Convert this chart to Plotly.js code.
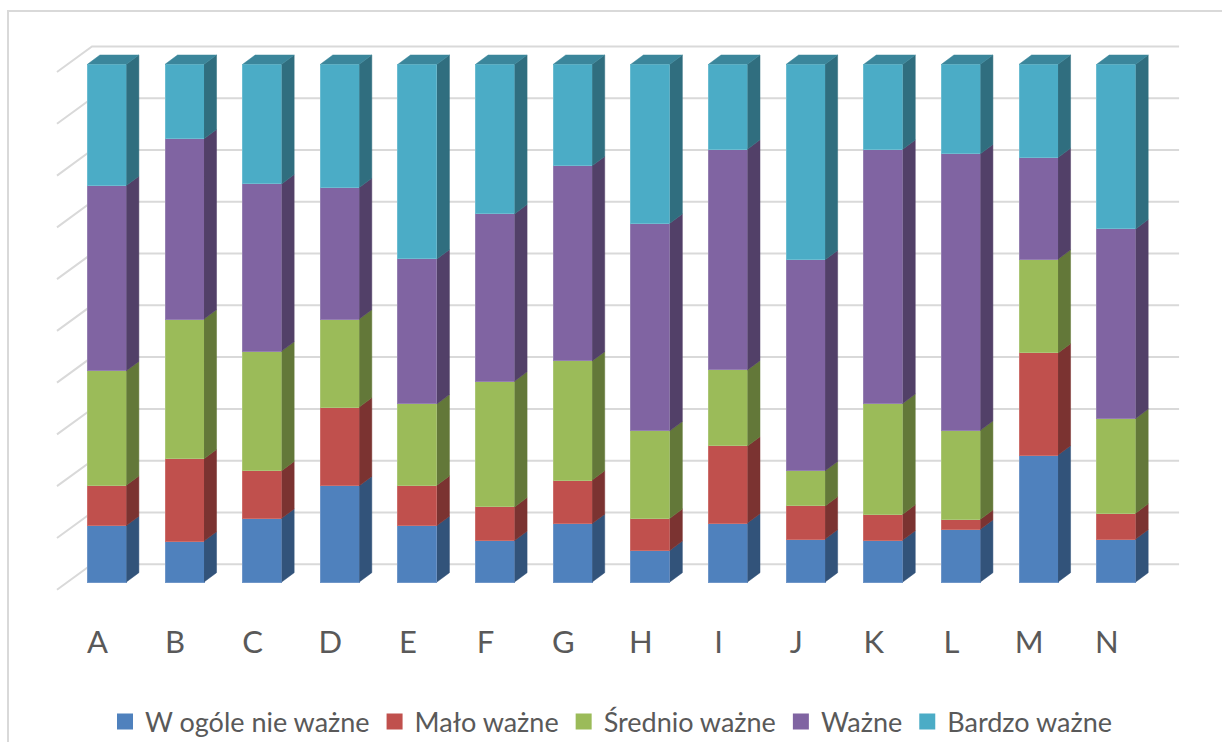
<!DOCTYPE html>
<html><head><meta charset="utf-8">
<script src="https://cdn.plot.ly/plotly-3.0.1.min.js"></script>
<style>
html,body{margin:0;padding:0;overflow:hidden;background:#fff;width:1222px;height:742px;}
#frame{position:absolute;left:7px;top:10px;width:1400px;height:900px;border-left:2px solid #d9d9d9;border-top:2px solid #d9d9d9;}
#chart{position:absolute;left:0;top:0;width:1222px;height:800px;}
</style></head><body><div id="frame"></div><div id="chart"></div>
<script>
// ---- data ----
const categories = ['A','B','C','D','E','F','G','H','I','J','K','L','M','N'];
const seriesNames = ['W ogóle nie ważne','Mało ważne','Średnio ważne','Ważne','Bardzo ważne'];
const wOgoleNieWazne = [10.9, 7.9, 12.3, 18.6, 10.9, 8.0, 11.3, 6.1, 11.4, 8.3, 8.1, 10.2, 24.5, 8.3];
const maloWazne      = [ 7.8,15.9,  9.2, 15.2,  7.8, 6.5,  8.4, 6.2, 14.9, 6.4, 5.0,  1.9, 19.7, 5.0];
const srednioWazne   = [22.1,27.0, 23.1, 17.0, 15.7,24.3, 23.0,16.9, 14.7, 6.8,21.4, 17.2, 18.1,18.3];
const wazne          = [35.8,34.8, 32.3, 25.4, 28.0,32.3, 37.7,40.1, 42.7,40.8,49.1, 53.4, 19.6,36.6];
const bardzoWazne    = [23.4,14.4, 23.1, 23.8, 37.6,28.9, 19.6,30.7, 16.4,37.8,16.4, 17.3, 18.0,31.8];
const gridTicks = [0,10,20,30,40,50,60,70,80,90,100];

// ---- style ----
const frontColors = ['#4F81BD','#C0504D','#9BBB59','#8064A2','#4BACC6'];
const edgeColors  = ['#6f96c8','#cc6e6b','#abc676','#9580b1','#6cbcd1'];
const sideColors  = ['#32537A','#7B3331','#637839','#524068','#306E7F'];
const topColor = '#3B869B';
const FONT = 'Lato, "Open Sans", sans-serif';
const TXT = '#595959';
const barW = 0.502;
const depthX = 0.161, depthY = 1.80;          // bar depth in axis units
const floorFrontX = -0.643, backLeftX = -0.192, backRightX = 13.81;
const floorFrontDY = -1.49, backDY = 3.44;     // gridline offsets in axis units
const labelShift = 0.122;                      // labels sit on the floor's front edge
const xRange = [-1.1193, 14.105];

const series = [wOgoleNieWazne, maloWazne, srednioWazne, wazne, bardzoWazne];
const xs = categories.map((c,i)=>i);
const totals = xs.map(i => series.reduce((s,arr)=>s+arr[i],0));
const pct = series.map(arr => arr.map((v,i)=> v/totals[i]*100));

const traces = [];
// front faces
pct.forEach((vals,s)=>{
  traces.push({type:'bar', x:xs, y:vals, width:barW, name:seriesNames[s], showlegend:false,
    marker:{color:frontColors[s], line:{color:edgeColors[s], width:1}}, hoverinfo:'skip'});
});
// side faces
const cum = xs.map(()=>0);
pct.forEach((vals,s)=>{
  const px=[], py=[];
  xs.forEach(i=>{
    const b = cum[i], t = cum[i]+vals[i];
    const xr = i + barW/2;
    px.push(xr, xr+depthX, xr+depthX, xr, null);
    py.push(b, b+depthY, t+depthY, t, null);
    cum[i] = t;
  });
  traces.push({type:'scatter', mode:'lines', x:px, y:py, fill:'toself', fillcolor:sideColors[s],
    line:{color:sideColors[s], width:0.5}, showlegend:false, hoverinfo:'skip'});
});
// top faces
{
  const px=[], py=[];
  xs.forEach(i=>{
    const t = cum[i];
    px.push(i-barW/2, i-barW/2+depthX, i+barW/2+depthX, i+barW/2, null);
    py.push(t, t+depthY, t+depthY, t, null);
  });
  traces.push({type:'scatter', mode:'lines', x:px, y:py, fill:'toself', fillcolor:topColor,
    line:{color:topColor, width:0.5}, showlegend:false, hoverinfo:'skip'});
}
// legend entries (on the label axis)
seriesNames.forEach((n,s)=>{
  traces.push({type:'scatter', mode:'markers', x:[null], y:[null], xaxis:'x2', name:n,
    marker:{symbol:'square', size:17, color:frontColors[s]}, hoverinfo:'skip'});
});

// gridlines (back wall + left floor edge)
const shapes = [];
gridTicks.forEach(v=>{
  shapes.push({type:'path', xref:'x', yref:'y', layer:'below',
    path:`M${floorFrontX},${v+floorFrontDY} L${backLeftX},${v+backDY} L${backRightX},${v+backDY}`,
    line:{color:'#d9d9d9', width:2}});
});

const layout = {
  width:1222, height:800,
  margin:{l:20, r:20, t:20, b:0},
  paper_bgcolor:'rgba(0,0,0,0)', plot_bgcolor:'rgba(0,0,0,0)',
  barmode:'stack', bargap:0,
  showlegend:true,
  legend:{orientation:'h', x:0.5, xanchor:'center', y:0.1, yanchor:'middle',
    font:{family:FONT, size:27, color:TXT}, traceorder:'normal', itemclick:false},
  xaxis:{range:xRange, showticklabels:false, showgrid:false, zeroline:false, showline:false, ticks:'', fixedrange:true},
  xaxis2:{range:[xRange[0]+labelShift, xRange[1]+labelShift], overlaying:'x', tickvals:xs, ticktext:categories,
    showgrid:false, zeroline:false, anchor:'free', position:0.2795, automargin:false, side:'bottom',
    showline:false, ticks:'', tickfont:{family:FONT, size:31, color:TXT}, ticklabelstandoff:39, fixedrange:true},
  yaxis:{range:[-42.11, 108.56], showgrid:false, zeroline:false, showline:false, showticklabels:false, ticks:'', fixedrange:true},
  shapes:shapes
};
Plotly.newPlot('chart', traces, layout, {displayModeBar:false, staticPlot:true});
</script></body></html>
